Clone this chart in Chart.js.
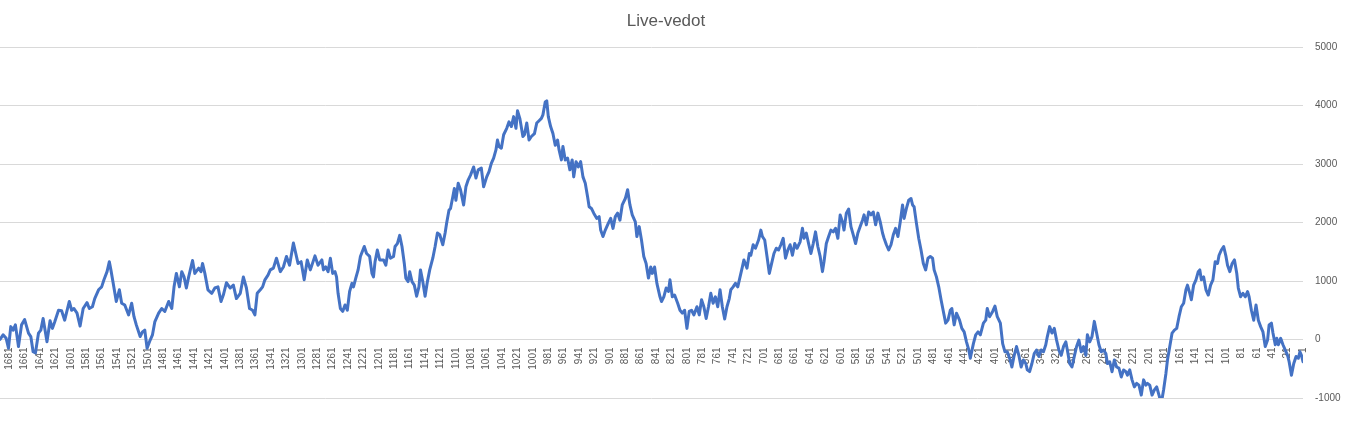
<!DOCTYPE html>
<html>
<head>
<meta charset="utf-8">
<title>Live-vedot</title>
<script src="https://cdn.jsdelivr.net/npm/chart.js@4.4.1/dist/chart.umd.min.js"></script>
<style>
  html, body { margin: 0; padding: 0; background: #fff; }
  #wrap { width: 1349px; height: 428px; }
</style>
</head>
<body>
<div id="wrap"><canvas id="liveChart" width="1349" height="428"></canvas></div>
<script>
const chartTitle = 'Live-vedot';

// category range of the x axis (shown in reverse order, 1 at the right)
const firstCategory = 1;
const lastCategory = 1693;

const categories = [
  1693,1689,1685,1682,1679,1676,1673,1669,1665,1661,
  1656,1653,1650,1647,1643,1640,1637,1632,1628,1625,
  1622,1617,1613,1609,1603,1600,1597,1593,1589,1585,
  1580,1577,1573,1570,1565,1561,1558,1554,1551,1549,
  1546,1542,1538,1535,1531,1526,1522,1519,1516,1511,
  1508,1505,1502,1498,1495,1492,1487,1483,1479,1474,
  1470,1467,1464,1460,1457,1454,1451,1448,1443,1440,
  1435,1432,1430,1427,1423,1418,1414,1410,1406,1403,
  1399,1394,1390,1386,1381,1377,1373,1369,1365,1362,
  1359,1355,1352,1349,1345,1342,1338,1334,1329,1325,
  1321,1317,1312,1306,1302,1298,1294,1290,1284,1280,
  1275,1273,1270,1267,1264,1261,1258,1256,1254,1251,
  1248,1245,1242,1239,1236,1234,1231,1228,1225,1220,
  1217,1213,1210,1208,1206,1203,1200,1195,1192,1189,
  1186,1182,1180,1177,1174,1171,1168,1166,1163,1161,
  1158,1155,1152,1149,1147,1144,1141,1138,1135,1131,
  1128,1125,1122,1118,1115,1113,
  1110,1108,1105,1103,1101,1098,1095,1091,1088,1085,
  1082,1078,1075,1072,1068,1065,1061,1058,1055,1052,
  1049,1047,1045,1042,1039,1035,1032,1029,1026,1023,
  1021,1018,1014,1012,1009,1006,1003,999,996,993,
  990,988,985,983,981,978,975,972,969,967,
  964,962,959,956,953,950,948,945,942,939,
  936,933,930,928,925,922,918,915,913,910,
  907,903,900,897,894,891,888,885,881,878,
  875,872,868,866,863,860,857,854,851,848,
  846,843,840,
  836,834,831,828,825,823,820,817,813,810,
  807,804,801,798,795,792,788,785,782,779,
  776,773,770,767,764,761,758,755,752,749,
  746,744,741,738,735,732,729,727,723,720,
  718,715,712,708,705,703,700,697,694,691,
  688,685,682,679,676,673,670,667,664,661,
  658,654,651,649,646,643,640,637,634,631,
  628,625,623,620,617,614,611,608,605,602,
  599,597,594,591,588,585,582,579,576,573,
  571,568,565,562,559,556,553,550,547,545,
  542,539,536,533,530,527,524,521,519,516,
  513,510,508,506,503,500,497,494,491,488,
  485,482,480,477,474,471,468,465,462,459,
  457,454,451,447,444,441,438,435,433,429,
  426,423,420,416,413,411,408,404,401,398,
  394,391,388,385,382,379,376,373,370,367,
  364,361,359,356,353,350,347,344,341,338,
  335,333,330,327,324,321,318,315,312,309,
  307,304,301,298,295,292,289,286,283,281,
  278,275,272,269,266,263,260,257,255,252,
  249,246,243,240,237,234,231,229,226,223,
  220,217,214,211,208,205,203,200,197,194,
  191,188,185,182,179,177,174,171,168,165,
  162,159,156,153,151,148,
  146,143,140,137,135,133,130,127,124,121,
  118,115,112,110,107,104,101,99,96,93,
  90,87,85,82,79,76,73,71,68,65,
  62,59,56,53,50,47,45,42,40,37,
  35,33,30,27,24,21,19,16,13,10,
  7,5,3,1
];

const liveVedot = [
  0,80,20,-150,220,160,250,-120,250,340,
  110,50,-210,-230,110,160,360,-40,320,190,
  300,500,490,330,650,500,530,450,230,530,
  630,530,560,700,850,900,1020,1160,1330,1190,
  960,650,850,620,590,420,620,390,250,50,
  130,160,-150,-10,80,300,450,530,480,650,
  530,900,1130,900,1160,1070,880,1070,1350,1130,
  1220,1160,1300,1130,850,790,880,900,650,760,
  970,880,930,700,790,1070,880,530,500,420,
  790,850,900,1020,1100,1190,1220,1390,1160,1240,
  1420,1270,1650,1300,1330,1020,1360,1190,1430,1270,
  1360,1190,1240,1160,1390,1130,1160,1070,790,530,
  480,590,500,820,960,900,1050,1190,1420,1590,
  1470,1420,1130,1070,1330,1530,1360,1360,1270,1530,
  1390,1420,1590,1640,1780,1590,1300,1050,990,1160,
  990,930,740,900,1190,990,740,990,1190,1390,
  1590,1820,1790,1620,1820,1990,
  2210,2240,2440,2580,2380,2670,2560,2300,2610,2730,
  2810,2950,2760,2900,2930,2610,2780,2870,3010,3100,
  3240,3410,3300,3270,3500,3610,3720,3640,3810,3610,
  3910,3780,3470,3500,3700,3410,3470,3520,3700,3740,
  3780,3840,4060,4080,3810,3640,3520,3320,3410,3240,
  3070,3300,3070,3100,2900,3070,2780,3040,2950,3040,
  2780,2670,2440,2270,2240,2160,2070,2100,1870,1760,
  1870,1990,2070,1900,2100,2160,2040,2300,2410,2560,
  2300,2130,2010,1760,1930,1700,1420,1300,1050,1240,
  1130,1240,960,
  730,650,730,880,820,1020,730,760,620,500,
  450,500,190,480,500,420,560,420,680,560,
  360,560,790,620,730,560,850,560,350,560,
  700,850,900,960,900,1070,1240,1360,1220,1470,
  1440,1620,1560,1700,1870,1760,1700,1420,1130,1300,
  1470,1560,1530,1620,1730,1390,1530,1620,1440,1640,
  1560,1670,1900,1730,1820,1640,1470,1640,1840,1590,
  1420,1160,1330,1640,1760,1870,1840,1900,1730,2130,
  2010,1870,2160,2230,1930,1790,1640,1820,1930,2040,
  2130,1960,2180,2130,2180,1960,2160,2010,1820,1730,
  1620,1530,1620,1790,1900,1760,2010,2300,2070,2240,
  2380,2410,2300,2270,1990,1730,1530,1300,1190,1390,
  1420,1390,1190,1070,900,680,480,280,330,500,
  530,250,450,330,190,130,-40,-180,-320,-70,
  80,130,80,280,330,530,390,480,570,390,
  280,-70,-210,-210,-320,-470,-270,-120,-270,-470,
  -350,-410,-520,-550,-410,-240,-180,-290,-180,-210,
  -90,50,220,110,190,-10,-180,-270,-120,-40,
  -180,-410,-470,-290,-120,-10,-210,-120,-270,80,
  -40,50,310,110,-90,-210,-180,-240,-410,-380,
  -550,-350,-470,-490,-640,-520,-550,-610,-520,-690,
  -810,-750,-780,-950,-690,-780,-750,-780,-950,-860,
  -810,-950,-1090,-860,-580,-350,-120,110,160,190,
  390,560,620,850,930,790,
  680,930,1020,1160,1190,1020,1070,850,760,930,
  1020,1330,1300,1440,1530,1590,1420,1270,1160,1300,
  1360,1130,880,730,790,730,820,730,500,330,
  590,330,220,130,-120,-10,250,280,110,-90,
  20,-90,20,-90,-180,-270,-380,-610,-410,-290,
  -320,-210,-270,-380
];

// x tick labels: every 20th category, counted from 1
const xTickLabels = [];
for (let t = 1; t <= 1681; t += 20) xTickLabels.push(t);

// y axis
const yMin = -1000;
const yMax = 5000;
const yStep = 1000;

const gray = '#595959';
const tickFont = { family: '"Liberation Sans", Arial, sans-serif', size: 10 };

const titlePlugin = {
  id: 'excelTitle',
  afterDraw(chart) {
    const ctx = chart.ctx;
    ctx.save();
    ctx.font = '17px "Liberation Sans", Arial, sans-serif';
    ctx.fillStyle = gray;
    ctx.textAlign = 'center';
    ctx.textBaseline = 'middle';
    ctx.fillText(chartTitle, 666, 21);
    ctx.restore();
  }
};

new Chart(document.getElementById('liveChart'), {
  type: 'line',
  data: {
    datasets: [{
      label: chartTitle,
      data: categories.map((c, i) => ({ x: c, y: liveVedot[i] })),
      borderColor: '#4472C4',
      borderWidth: 3,
      borderJoinStyle: 'round',
      borderCapStyle: 'round',
      pointRadius: 0,
      tension: 0,
      fill: false
    }]
  },
  options: {
    responsive: false,
    animation: false,
    layout: { padding: { top: 47, bottom: 30, left: 0, right: 0 } },
    plugins: {
      legend: { display: false },
      tooltip: { enabled: false },
      title: { display: false }
    },
    scales: {
      x: {
        type: 'linear',
        reverse: true,
        min: firstCategory,
        max: lastCategory,
        position: { y: 0 },
        grid: { display: false, drawTicks: false },
        border: { display: false },
        afterBuildTicks: axis => { axis.ticks = xTickLabels.map(v => ({ value: v })); },
        afterFit: axis => { axis.paddingLeft = 0; axis.paddingRight = 0; },
        ticks: {
          autoSkip: false,
          minRotation: 90,
          maxRotation: 90,
          padding: 8,
          color: gray,
          font: tickFont,
          callback: v => String(v)
        }
      },
      y: {
        position: 'right',
        min: yMin,
        max: yMax,
        grid: { color: '#d9d9d9', drawTicks: false },
        border: { display: false },
        afterFit: axis => { axis.width = 46; },
        ticks: {
          stepSize: yStep,
          padding: 12,
          color: gray,
          font: tickFont,
          callback: v => String(v)
        }
      }
    }
  },
  plugins: [titlePlugin]
});
</script>
</body>
</html>
